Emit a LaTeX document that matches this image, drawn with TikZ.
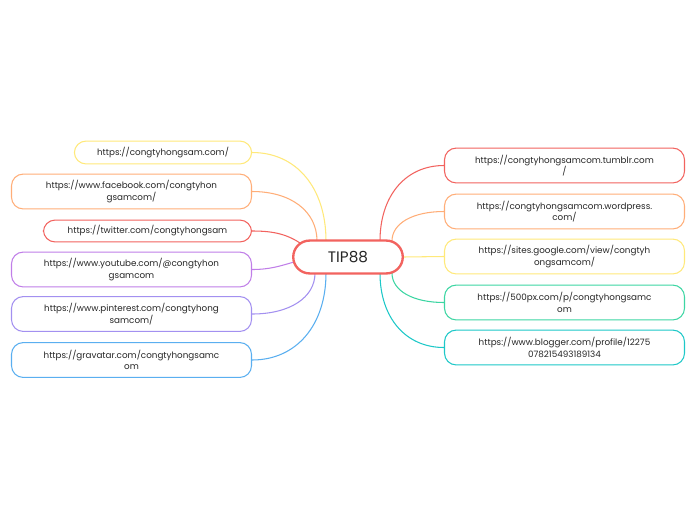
\documentclass[tikz,border=0pt]{standalone}
\usepackage{fontspec}
\setmainfont{Poppins}
\usetikzlibrary{positioning,calc}
\definecolor{cyel}{HTML}{FFE97A}
\definecolor{cora}{HTML}{FFAE78}
\definecolor{cred}{HTML}{F2635F}
\definecolor{cpur}{HTML}{C07EE8}
\definecolor{clil}{HTML}{A390F0}
\definecolor{cblu}{HTML}{5AAFF0}
\definecolor{cgrn}{HTML}{3DD6A3}
\definecolor{ctea}{HTML}{1DC8C8}
\tikzset{
  leaf/.style={draw=#1,line width=0.9pt,rounded corners=10pt,fill=white,inner sep=2pt,
    font=\fontsize{7.5}{10}\selectfont,align=center,text=black!85},
  link/.style={draw=#1,line width=0.9pt}
}
\newcommand{\bend}[3]{\draw[link=#1] (#2) .. controls ($(#2)!0.6!(#2 |- #3)$) and ($(#3)!0.6!(#2 |- #3)$) .. (#3);}
\begin{document}
\begin{tikzpicture}[x=0.03cm,y=-0.03cm]
\useasboundingbox[fill=white] (0,0) rectangle (697,520);
% left side
\node[leaf=cyel,minimum width=178*0.85pt,minimum height=23*0.85pt] (l1) at (163,152.5) {https://congtyhongsam.com/};
\node[leaf=cora,minimum width=241*0.85pt,minimum height=35*0.85pt] (l2) at (131.5,191.5) {https://www.facebook.com/congtyhon\\gsamcom/};
\node[leaf=cred,minimum width=209*0.85pt,minimum height=22*0.85pt] (l3) at (147.5,231) {https://twitter.com/congtyhongsam};
\node[leaf=cpur,minimum width=241*0.85pt,minimum height=35*0.85pt] (l4) at (131.5,269.5) {https://www.youtube.com/@congtyhon\\gsamcom};
\node[leaf=clil,minimum width=241*0.85pt,minimum height=35*0.85pt] (l5) at (131.5,314) {https://www.pinterest.com/congtyhong\\samcom/};
\node[leaf=cblu,minimum width=241*0.85pt,minimum height=35*0.85pt] (l6) at (131.5,360) {https://gravatar.com/congtyhongsamc\\om};
% right side
\node[leaf=cred,minimum width=241*0.85pt,minimum height=35*0.85pt] (r1) at (564.5,165.5) {https://congtyhongsamcom.tumblr.com\\/};
\node[leaf=cora,minimum width=241*0.85pt,minimum height=35*0.85pt] (r2) at (564.5,211.5) {https://congtyhongsamcom.wordpress.\\com/};
\node[leaf=cyel,minimum width=241*0.85pt,minimum height=35*0.85pt] (r3) at (564.5,256.5) {https://sites.google.com/view/congtyh\\ongsamcom/};
\node[leaf=cgrn,minimum width=241*0.85pt,minimum height=35*0.85pt] (r4) at (564.5,302.5) {https://500px.com/p/congtyhongsamc\\om};
\node[leaf=ctea,minimum width=241*0.85pt,minimum height=35*0.85pt] (r5) at (564.5,347.5) {https://www.blogger.com/profile/12275\\078215493189134};
% connectors
\coordinate (o1) at (326,241);
\coordinate (o2) at (317,241);
\coordinate (o3) at (300,243);
\coordinate (o4) at (294,262);
\coordinate (o5) at (315,273);
\coordinate (o6) at (326,273);
\coordinate (p1) at (380,241);
\coordinate (p2) at (392,241);
\coordinate (p3) at (403,257);
\coordinate (p4) at (392,273);
\coordinate (p5) at (380,273);
\bend{cyel}{o1}{l1.east}
\bend{cora}{o2}{l2.east}
\draw[link=cred] (o3) .. controls (285,233) and (270,231) .. (l3.east);
\draw[link=cpur] (o4) .. controls (280,266) and (270,269.5) .. (l4.east);
\bend{clil}{o5}{l5.east}
\bend{cblu}{o6}{l6.east}
\bend{cred}{p1}{r1.west}
\bend{cora}{p2}{r2.west}
\draw[link=cyel] (p3) -- (r3.west);
\bend{cgrn}{p4}{r4.west}
\bend{ctea}{p5}{r5.west}
% centre
\node[draw=cred,line width=2pt,rounded corners=14pt,fill=white,minimum width=110*0.85pt,
  minimum height=33*0.85pt,font=\fontsize{13}{15}\selectfont,text=black!85] (hub) at (348,257) {TIP88};
\end{tikzpicture}
\end{document}
